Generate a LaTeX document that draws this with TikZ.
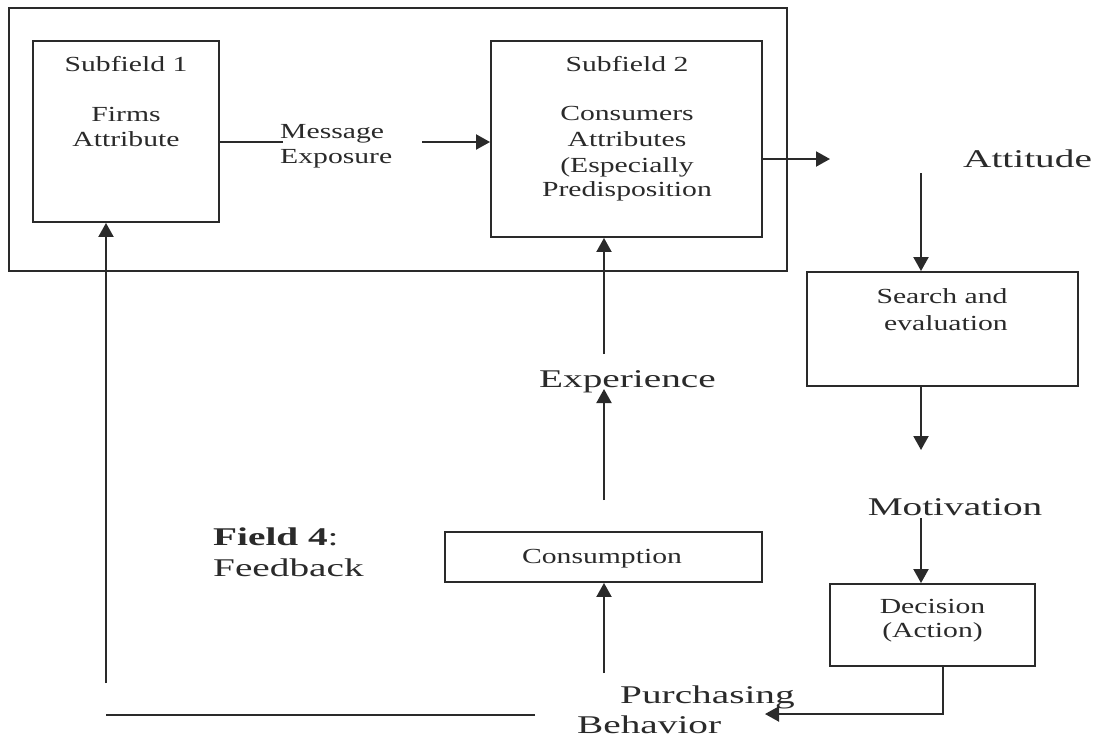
\documentclass[tikz,border=0pt]{standalone}
\usepackage{fontspec}
\setmainfont{Liberation Serif}
\newfontfamily\fa[FakeStretch=1.38]{Liberation Serif}
\newfontfamily\fb[FakeStretch=1.54]{Liberation Serif}
\usetikzlibrary{arrows.meta}
\definecolor{ink}{HTML}{2A2A2A}
\begin{document}
\begin{tikzpicture}[x=1pt,y=-1pt,
  box/.style={draw=ink, line width=1.9pt, inner sep=0pt},
  conn/.style={draw=ink, line width=2pt},
  arr/.style={conn, -{Triangle[length=14pt,width=15pt]}},
  small/.style={font=\fontsize{21.5}{25}\fa, anchor=base, text=ink, inner sep=0pt},
  big/.style={font=\fontsize{25.5}{30}\fb, anchor=base, text=ink, inner sep=0pt}]
\useasboundingbox (0,0) rectangle (1099,740);
\fill[white] (0,0) rectangle (1099,740);

% boxes
\node[box, minimum width=778pt, minimum height=263pt] (outer) at (398,139.5) {};
\node[box, minimum width=186pt, minimum height=181pt] (sf1) at (126,131.5) {};
\node[box, minimum width=271pt, minimum height=196pt] (sf2) at (626.5,139) {};
\node[box, minimum width=271pt, minimum height=114pt] (se) at (942.5,329) {};
\node[box, minimum width=205pt, minimum height=82pt] (dec) at (932.5,625) {};
\node[box, minimum width=317pt, minimum height=50pt] (cons) at (603.5,557) {};

% texts
\node[small] (t1a) at (126,71) {Subfield 1};
\node[small] (t1b) at (126,121) {Firms};
\node[small] (t1c) at (126,146) {Attribute};
\node[small, anchor=base west] (msg) at (280,138) {Message};
\node[small, anchor=base west] (exp) at (280,163) {Exposure};
\node[small] (t2a) at (627,71) {Subfield 2};
\node[small] (t2b) at (627,120) {Consumers};
\node[small] (t2c) at (627,146) {Attributes};
\node[small] (t2d) at (627,172) {(Especially};
\node[small] (t2e) at (627,196) {Predisposition};
\node[big, anchor=base west] (att) at (963,167) {Attitude};
\node[small] (se1) at (942,303) {Search and};
\node[small] (se2) at (946,330) {evaluation};
\node[big] (mot) at (955,515) {Motivation};
\node[small] (d1) at (932.5,613) {Decision};
\node[small] (d2) at (932.5,637) {(Action)};
\node[small] (c1) at (602,563) {Consumption};
\node[big] (xp) at (627.5,387) {Experience};
\node[big, anchor=base west] (pb1) at (620,703) {Purchasing};
\node[big, anchor=base west] (pb2) at (577,733) {Behavior};
\node[big, anchor=base west] (f4a) at (213,545) {{\bfseries Field 4}:};
\node[big, anchor=base west] (f4b) at (213,576) {Feedback};

% free connector ends
\coordinate (msgL) at (283,142);
\coordinate (msgR) at (422,142);
\coordinate (attA) at (830,159);
\coordinate (attB) at (921,173);
\coordinate (motA) at (921,450);
\coordinate (motB) at (921,518);
\coordinate (decX) at (943,714);
\coordinate (pbR) at (765,714);
\coordinate (pbU) at (604,673);
\coordinate (xpB) at (604,500);
\coordinate (xpT) at (604,389);
\coordinate (xpU) at (604,354);
\coordinate (fbR) at (535,715);
\coordinate (fbL) at (106,715);
\coordinate (fbU) at (106,683);

% connectors
\draw[conn] (sf1.east |- msgL) -- (msgL);
\draw[arr] (msgR) -- (sf2.west |- msgR);
\draw[arr] (sf2.east |- attA) -- (attA);
\draw[arr] (attB) -- (attB |- se.north);
\draw[arr] (se.south -| motA) -- (motA);
\draw[arr] (motB) -- (motB |- dec.north);
\draw[arr] (dec.south -| decX) -- (decX) -- (pbR);
\draw[arr] (pbU) -- (pbU |- cons.south);
\draw[arr] (xpB) -- (xpT);
\draw[arr] (xpU) -- (xpU |- sf2.south);
\draw[conn] (fbR) -- (fbL);
\draw[arr] (fbU) -- (fbU |- sf1.south);
\end{tikzpicture}
\end{document}
